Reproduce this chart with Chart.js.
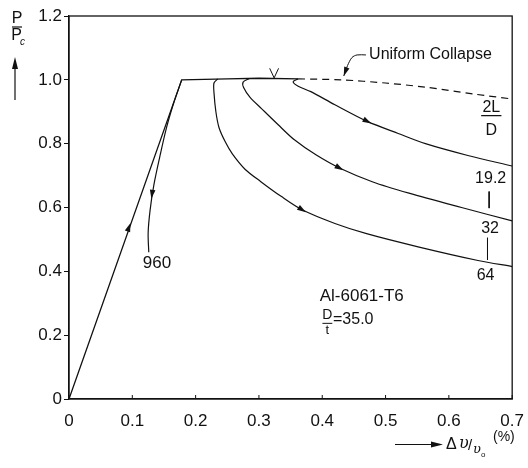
<!DOCTYPE html>
<html>
<head>
<meta charset="utf-8">
<script src="https://cdn.jsdelivr.net/npm/chart.js@4.4.1/dist/chart.umd.min.js"></script>
<style>
  html, body { margin: 0; padding: 0; background: #fff; }
</style>
</head>
<body>
<canvas id="chart" width="528" height="468"></canvas>
<script>
/* ---------- data ---------- */
const xTicks = [0, 0.1, 0.2, 0.3, 0.4, 0.5, 0.6, 0.7];
const yTicks = [0, 0.2, 0.4, 0.6, 0.8, 1.0, 1.2];

// elastic loading + plateau (solid envelope)
const envX = [0, 0.178, 0.25, 0.30, 0.362];
const envY = [0, 1.0, 1.003, 1.005, 1.003];

// 2L/D = 960 unloading branch
const c960X = [0.178, 0.165, 0.154, 0.143, 0.134, 0.128, 0.125, 0.126];
const c960Y = [1.0, 0.925, 0.85, 0.755, 0.67, 0.59, 0.52, 0.46];

// 2L/D = 19.2
const c192X = [0.362, 0.354, 0.362, 0.382, 0.42, 0.472, 0.52, 0.563, 0.63, 0.7];
const c192Y = [1.003, 0.994, 0.98, 0.963, 0.922, 0.869, 0.832, 0.80, 0.763, 0.73];

// 2L/D = 32
const c32X = [0.285, 0.275, 0.276, 0.286, 0.304, 0.33, 0.356, 0.39, 0.428, 0.48, 0.537, 0.62, 0.7];
const c32Y = [1.004, 0.993, 0.975, 0.945, 0.91, 0.86, 0.812, 0.765, 0.723, 0.68, 0.645, 0.6, 0.558];

// 2L/D = 64
const c64X = [0.235, 0.229, 0.229, 0.232, 0.237, 0.247, 0.258, 0.278, 0.303, 0.335, 0.369, 0.42, 0.47, 0.553, 0.646, 0.7];
const c64Y = [1.003, 0.99, 0.96, 0.9, 0.85, 0.805, 0.768, 0.72, 0.681, 0.635, 0.592, 0.55, 0.518, 0.476, 0.434, 0.415];

// uniform collapse (dashed)
const ucX = [0.362, 0.43, 0.5, 0.563, 0.641, 0.7];
const ucY = [1.003, 1.0, 0.99, 0.977, 0.955, 0.94];

// leader from "Uniform Collapse" label
const leadX = [0.469, 0.455, 0.447, 0.44, 0.434];
const leadY = [1.078, 1.078, 1.07, 1.045, 1.012];

// collapse onset mark
const onsetX = [0.317, 0.324, 0.331];
const onsetY = [1.036, 1.006, 1.036];

// small label strokes
const barLDX = [0.651, 0.683], barLDY = [0.888, 0.888];
const tick192X = [0.6636, 0.6636], tick192Y = [0.65, 0.598];
const tick32X = [0.661, 0.661], tick32Y = [0.505, 0.436];
const barDtX = [0.4003, 0.4159], barDtY = [0.237, 0.237];

// arrow heads on curves (direction follows the curve)
const arrowEnv = [[0.095, 0.54]];
const arrow960 = [[0.131, 0.64]];
const arrow192 = [[0.472, 0.869]];
const arrow32 = [[0.428, 0.723]];
const arrow64 = [[0.369, 0.592]];
const arrowLead = [[0.434, 1.012]];

const labels = [
  { t: 'Uniform Collapse', x: 0.474, y: 1.078, align: 'left' },
  { t: '2L', x: 0.667, y: 0.912 },
  { t: 'D', x: 0.667, y: 0.842 },
  { t: '19.2', x: 0.666, y: 0.692 },
  { t: '32', x: 0.665, y: 0.533 },
  { t: '64', x: 0.658, y: 0.386 },
  { t: '960', x: 0.139, y: 0.425, size: 17 },
  { t: 'Al-6061-T6', x: 0.396, y: 0.321, align: 'left', size: 17 },
  { t: 'D', x: 0.408, y: 0.262, size: 14 },
  { t: 't', x: 0.408, y: 0.214, size: 13 },
  { t: '=35.0', x: 0.417, y: 0.248, align: 'left' }
];

/* ---------- helpers ---------- */
const INK = '#111';
const FONT = '"Liberation Sans", Arial, sans-serif';
const pts = (xs, ys) => xs.map((x, i) => ({ x: x, y: ys[i] }));

function line(data, opts) {
  return Object.assign({
    data: data,
    showLine: true,
    borderColor: INK,
    borderWidth: 1.2,
    pointRadius: 0,
    tension: 0,
    fill: false
  }, opts || {});
}

function head(ctx, x, y, ang, len, half) {
  const c = Math.cos(ang), s = Math.sin(ang);
  ctx.beginPath();
  ctx.moveTo(x, y);
  ctx.lineTo(x - len * c + half * s, y - len * s - half * c);
  ctx.lineTo(x - len * c - half * s, y - len * s + half * c);
  ctx.closePath();
  ctx.fill();
}

/* ---------- plugin: frame, inward x ticks, arrows, labels, titles ---------- */
const decor = {
  id: 'decor',
  afterDatasetsDraw(chart) {
    const ctx = chart.ctx;
    const a = chart.chartArea;
    const xs = chart.scales.x, ys = chart.scales.y;
    ctx.save();
    ctx.strokeStyle = INK;
    ctx.fillStyle = INK;

    // frame
    ctx.lineWidth = 1.3;
    ctx.strokeRect(a.left, a.top, a.right - a.left, a.bottom - a.top);

    // inward x ticks
    ctx.lineWidth = 1;
    xTicks.forEach(v => {
      const px = xs.getPixelForValue(v);
      ctx.beginPath();
      ctx.moveTo(px, a.bottom);
      ctx.lineTo(px, a.bottom - 4);
      ctx.stroke();
    });

    // arrow heads along curves
    chart.data.datasets.forEach((ds, i) => {
      if (!ds.arrows) return;
      const p = chart.getDatasetMeta(i).data;
      ds.arrows.forEach(([ax, ay]) => {
        const qx = xs.getPixelForValue(ax), qy = ys.getPixelForValue(ay);
        let best = 0, bd = Infinity;
        for (let j = 0; j < p.length - 1; j++) {
          const dx = p[j + 1].x - p[j].x, dy = p[j + 1].y - p[j].y;
          const L = dx * dx + dy * dy || 1;
          let t = ((qx - p[j].x) * dx + (qy - p[j].y) * dy) / L;
          t = Math.max(0, Math.min(1, t));
          const ex = p[j].x + t * dx - qx, ey = p[j].y + t * dy - qy;
          const d = ex * ex + ey * ey;
          if (d < bd) { bd = d; best = j; }
        }
        const ang = Math.atan2(p[best + 1].y - p[best].y, p[best + 1].x - p[best].x);
        const tip = ds.arrowAtEnd ? 0 : 4;
        head(ctx, qx + Math.cos(ang) * tip, qy + Math.sin(ang) * tip, ang, 9, 2.8);
      });
    });

    // text labels in data space
    ctx.textBaseline = 'middle';
    labels.forEach(l => {
      ctx.font = (l.size || 16) + 'px ' + FONT;
      ctx.textAlign = l.align || 'center';
      ctx.fillText(l.t, xs.getPixelForValue(l.x), ys.getPixelForValue(l.y));
    });

    // y title: P / Pc with up arrow
    ctx.font = '16px ' + FONT;
    ctx.textAlign = 'center';
    ctx.fillText('P', 17, 19);
    ctx.lineWidth = 1.2;
    ctx.beginPath(); ctx.moveTo(12, 27); ctx.lineTo(22, 27); ctx.stroke();
    ctx.fillText('P', 16.5, 36);
    ctx.font = 'italic 10px ' + FONT;
    ctx.fillText('c', 22.5, 42);
    ctx.beginPath(); ctx.moveTo(15, 100); ctx.lineTo(15, 64); ctx.stroke();
    head(ctx, 15, 57, -Math.PI / 2, 12, 3);

    // x title: arrow then Δ v/v0 (%)
    ctx.beginPath(); ctx.moveTo(395, 444.5); ctx.lineTo(434, 444.5); ctx.stroke();
    head(ctx, 443, 444.5, 0, 12, 3);
    ctx.textAlign = 'left';
    ctx.font = '16px ' + FONT;
    ctx.fillText('Δ', 446, 445);
    ctx.font = 'italic 16px "DejaVu Serif", serif';
    ctx.fillText('υ', 459, 444);
    ctx.font = '15px ' + FONT;
    ctx.fillText('/', 468, 446);
    ctx.font = 'italic 13px "DejaVu Serif", serif';
    ctx.fillText('υ', 473, 450);
    ctx.font = '8px ' + FONT;
    ctx.fillText('o', 481, 455);
    ctx.font = '14px ' + FONT;
    ctx.fillText('(%)', 493, 437);

    ctx.restore();
  }
};

/* ---------- chart ---------- */
new Chart(document.getElementById('chart').getContext('2d'), {
  type: 'scatter',
  data: {
    datasets: [
      line(pts(envX, envY), { borderWidth: 1.3, arrows: arrowEnv }),
      line(pts(c960X, c960Y), { tension: 0.3, arrows: arrow960 }),
      line(pts(c192X, c192Y), { tension: 0.3, arrows: arrow192 }),
      line(pts(c32X, c32Y), { tension: 0.3, arrows: arrow32 }),
      line(pts(c64X, c64Y), { tension: 0.3, arrows: arrow64 }),
      line(pts(ucX, ucY), { tension: 0.3, borderDash: [7, 5] }),
      line(pts(leadX, leadY), { tension: 0.3, borderWidth: 1, arrows: arrowLead, arrowAtEnd: true }),
      line(pts(onsetX, onsetY), { borderWidth: 1 }),
      line(pts(barLDX, barLDY), { borderWidth: 1.2 }),
      line(pts(tick192X, tick192Y), { borderWidth: 1 }),
      line(pts(tick32X, tick32Y), { borderWidth: 1 }),
      line(pts(barDtX, barDtY), { borderWidth: 1 })
    ]
  },
  options: {
    responsive: false,
    animation: false,
    devicePixelRatio: 1,
    layout: { padding: { top: 16, right: 10, left: 0, bottom: 0 } },
    plugins: { legend: { display: false }, tooltip: { enabled: false } },
    scales: {
      x: {
        type: 'linear',
        min: 0, max: 0.7,
        afterFit: s => { s.height = 69; },
        afterBuildTicks: s => { s.ticks = xTicks.map(v => ({ value: v })); },
        grid: { display: false },
        border: { display: true, color: INK, width: 1.3 },
        ticks: {
          color: INK,
          padding: 4,
          maxRotation: 0,
          font: { family: FONT, size: 17 },
          callback: v => v === 0 ? '0' : (Math.round(v * 10) / 10).toFixed(1)
        }
      },
      y: {
        type: 'linear',
        min: 0, max: 1.2,
        afterFit: s => { s.width = 69; },
        afterBuildTicks: s => { s.ticks = yTicks.map(v => ({ value: v })); },
        grid: { drawOnChartArea: false, tickLength: 5, color: INK, lineWidth: 1 },
        border: { display: true, color: INK, width: 1.3 },
        ticks: {
          color: INK,
          padding: 2,
          font: { family: FONT, size: 17 },
          callback: v => v === 0 ? '0' : (Math.round(v * 10) / 10).toFixed(1)
        }
      }
    }
  },
  plugins: [decor]
});
</script>
</body>
</html>
